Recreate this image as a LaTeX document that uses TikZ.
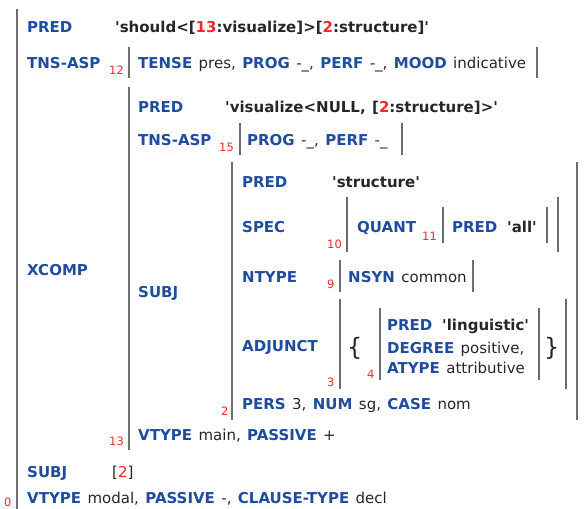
\documentclass[tikz,border=0pt]{standalone}
\usepackage{fontspec}
\setmainfont{DejaVu Sans}

\definecolor{featblue}{HTML}{1F4C9C}
\definecolor{valtext}{HTML}{262626}
\definecolor{idxred}{HTML}{F02A2A}
\definecolor{bargray}{HTML}{6E6E6E}

\newcommand{\fsfont}{\fontsize{15}{18}\selectfont\spaceskip=6.4pt}
\newcommand{\idxfont}{\fontsize{11.5}{13}\selectfont}
\newcommand{\fattr}[1]{{\color{featblue}\bfseries #1}}
\newcommand{\fnum}[1]{{\color{idxred}#1}}
\newcommand{\sq}{\textquotesingle}

\tikzset{%
  % Specifications for style of nodes:
         feat/.style = {anchor=base west, inner sep=0pt, font=\fsfont\bfseries, text=featblue},
          val/.style = {anchor=base west, inner sep=0pt, font=\fsfont, text=valtext},
          sem/.style = {val, font=\fsfont\bfseries},
          idx/.style = {anchor=base west, inner sep=0pt, font=\idxfont, text=idxred},
         fbar/.style = {draw=bargray, line width=2.4pt},
        brace/.style = {anchor=base west, inner sep=0pt, font=\fontsize{24}{28}\selectfont, text=valtext},
}

\begin{document}
\begin{tikzpicture}[x=1pt, y=-1pt]
    \useasboundingbox (0,0) rectangle (587,509);

    % Draw nodes
    \node (pred)      [feat] at (27,32)   {PRED};
    \node (predv)     [sem]  at (115,32)  {\sq should<[\fnum{13}:visualize]>[\fnum{2}:structure]\sq};
    \node (tns)       [feat] at (27,68)   {TNS-ASP};
    \node (tnsi)      [idx]  at (109,74)  {12};
    \node (tnsv)      [val]  at (138,68)  {\fattr{TENSE} pres, \fattr{PROG} -\_, \fattr{PERF} -\_, \fattr{MOOD} indicative};
    \node (xcomp)     [feat] at (27,275)  {XCOMP};

    \node (xpred)     [feat] at (138,112) {PRED};
    \node (xpredv)    [sem]  at (225,112) {\sq visualize<NULL, [\fnum{2}:structure]>\sq};
    \node (xtns)      [feat] at (138,145) {TNS-ASP};
    \node (xtnsi)     [idx]  at (219,151) {15};
    \node (xtnsv)     [val]  at (247,145) {\fattr{PROG} -\_, \fattr{PERF} -\_};
    \node (xsubj)     [feat] at (138,297) {SUBJ};

    \node (spred)     [feat] at (242,187) {PRED};
    \node (spredv)    [sem]  at (332,187) {\sq structure\sq};
    \node (spec)      [feat] at (242,232) {SPEC};
    \node (speci)     [idx]  at (327,248) {10};
    \node (quant)     [feat] at (357,232) {QUANT};
    \node (quanti)    [idx]  at (422,240) {11};
    \node (qpred)     [feat] at (452,232) {PRED};
    \node (qpredv)    [sem]  at (507,232) {\sq all\sq};
    \node (ntype)     [feat] at (242,282) {NTYPE};
    \node (ntypei)    [idx]  at (327,288) {9};
    \node (ntypev)    [val]  at (348,282) {\fattr{NSYN} common};
    \node (adj)       [feat] at (242,351) {ADJUNCT};
    \node (adji)      [idx]  at (327,386) {3};
    \node (lbrace)    [brace] at (347,355) {\{};
    \node (elti)      [idx]  at (367,378) {4};
    \node (apred)     [feat] at (387,330) {PRED};
    \node (apredv)    [sem]  at (442,330) {\sq linguistic\sq};
    \node (adeg)      [val]  at (387,353) {\fattr{DEGREE} positive,};
    \node (atype)     [val]  at (387,373) {\fattr{ATYPE} attributive};
    \node (rbrace)    [brace] at (544,355) {\}};
    \node (pers)      [val]  at (242,409) {\fattr{PERS} 3, \fattr{NUM} sg, \fattr{CASE} nom};
    \node (subji)     [idx]  at (221,415) {2};

    \node (xvtype)    [val]  at (138,440) {\fattr{VTYPE} main, \fattr{PASSIVE} +};
    \node (xcompi)    [idx]  at (109,445) {13};

    \node (subj)      [feat] at (27,477)  {SUBJ};
    \node (subjv)     [val]  at (112,477) {[\fnum{2}]};
    \node (vtype)     [val]  at (27,503)  {\fattr{VTYPE} modal, \fattr{PASSIVE} -, \fattr{CLAUSE-TYPE} decl};
    \node (rooti)     [idx]  at (4,506.5) {0};

    % Draw brackets
    \draw[fbar]  (17,9)    -- (17,509);
    \draw[fbar]  (129,47)  -- (129,78);
    \draw[fbar]  (537,47)  -- (537,78);
    \draw[fbar]  (129,87)  -- (129,450);
    \draw[fbar]  (240,123) -- (240,155);
    \draw[fbar]  (402,123) -- (402,155);
    \draw[fbar]  (232,162) -- (232,420);
    \draw[fbar]  (577,162) -- (577,420);
    \draw[fbar]  (347,197) -- (347,252);
    \draw[fbar]  (558,197) -- (558,252);
    \draw[fbar]  (443,207) -- (443,243);
    \draw[fbar]  (547,207) -- (547,243);
    \draw[fbar]  (340,260) -- (340,292);
    \draw[fbar]  (473,260) -- (473,292);
    \draw[fbar]  (340,299) -- (340,389);
    \draw[fbar]  (566,299) -- (566,389);
    \draw[fbar]  (380,308) -- (380,380);
    \draw[fbar]  (539,308) -- (539,380);

\end{tikzpicture}
\end{document}
